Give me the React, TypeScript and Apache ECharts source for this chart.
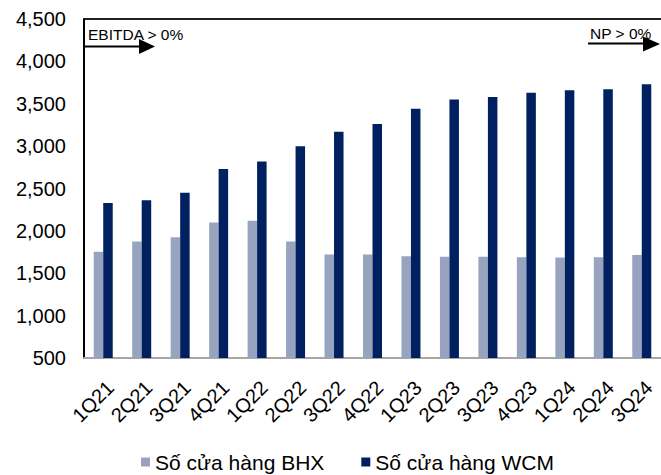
import React, { useEffect, useRef } from "react";
import * as echarts from "echarts";

const categories = ["1Q21","2Q21","3Q21","4Q21","1Q22","2Q22","3Q22","4Q22","1Q23","2Q23","3Q23","4Q23","1Q24","2Q24","3Q24"];
const bhxStores = [1755, 1875, 1925, 2100, 2120, 1875, 1720, 1720, 1700, 1695, 1695, 1690, 1685, 1690, 1715];
const wcmStores = [2330, 2360, 2450, 2730, 2820, 3000, 3170, 3260, 3440, 3550, 3580, 3630, 3660, 3670, 3730];
const seriesNames = ["Số cửa hàng BHX", "Số cửa hàng WCM"];
const yMin = 500;
const yMax = 4500;
const yStep = 500;
const annotationLeft = "EBITDA > 0%";
const annotationRight = "NP > 0%";

const FONT = "'Liberation Sans', Arial, sans-serif";

export default function App() {
  const ref = useRef<HTMLDivElement>(null);
  useEffect(() => {
    document.body.style.margin = "0";
    const chart = echarts.init(ref.current!, null, { renderer: "svg" });
    chart.setOption({
      animation: false,
      backgroundColor: "#ffffff",
      textStyle: { fontFamily: FONT },
      grid: { left: 84, right: 0, top: 19, bottom: 117, containLabel: false },
      legend: {
        left: 136,
        top: 446,
        padding: 5,
        itemWidth: 9,
        itemHeight: 9,
        itemGap: 37,
        icon: "rect",
        textStyle: { fontSize: 21, color: "#000", fontFamily: FONT, lineHeight: 22 },
        data: seriesNames,
      },
      xAxis: {
        type: "category",
        data: categories,
        axisLine: { show: true, lineStyle: { color: "#a6a6a6", width: 2 } },
        axisTick: { show: false },
        axisLabel: {
          rotate: 45,
          fontSize: 20,
          color: "#000",
          margin: 19,
          verticalAlign: "top",
          interval: 0,
          fontFamily: FONT,
        },
      },
      yAxis: {
        type: "value",
        min: yMin,
        max: yMax,
        interval: yStep,
        axisLine: { show: true, lineStyle: { color: "#000", width: 2 } },
        axisTick: { show: false },
        splitLine: { show: false },
        axisLabel: {
          fontSize: 20,
          color: "#000",
          margin: 18,
          fontFamily: FONT,
          formatter: (v: number) => v.toLocaleString("en-US"),
        },
      },
      series: [
        {
          name: seriesNames[0],
          type: "bar",
          data: bhxStores,
          barWidth: 9.5,
          barGap: "0%",
          itemStyle: { color: "#98a4bf" },
        },
        {
          name: seriesNames[1],
          type: "bar",
          data: wcmStores,
          barWidth: 9.5,
          barGap: "0%",
          itemStyle: { color: "#002060" },
        },
      ],
      graphic: [
        { type: "line", shape: { x1: 84, y1: 19, x2: 661, y2: 19 }, style: { stroke: "#222", lineWidth: 2 } },
        { type: "text", left: 88, top: 26, style: { text: annotationLeft, fontSize: 15.5, fill: "#000", fontFamily: FONT } },
        { type: "line", shape: { x1: 84, y1: 46.5, x2: 141, y2: 46.5 }, style: { stroke: "#000", lineWidth: 2 } },
        { type: "polygon", shape: { points: [[139, 39], [155, 46.5], [139, 54]] }, style: { fill: "#000" } },
        { type: "text", left: 590, top: 25, style: { text: annotationRight, fontSize: 15.5, fill: "#000", fontFamily: FONT } },
        { type: "line", shape: { x1: 588, y1: 43.5, x2: 645, y2: 43.5 }, style: { stroke: "#000", lineWidth: 2 } },
        { type: "polygon", shape: { points: [[643, 36.5], [660, 44], [643, 51.5]] }, style: { fill: "#000" } },
      ],
    });
    return () => chart.dispose();
  }, []);
  return <div ref={ref} style={{ position: "fixed", left: 0, top: 0, width: 661, height: 475 }} />;
}
